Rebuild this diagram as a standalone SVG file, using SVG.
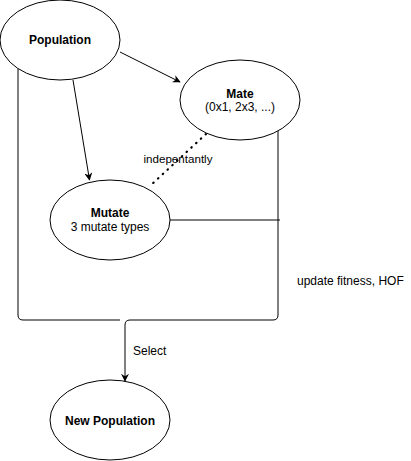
<svg xmlns="http://www.w3.org/2000/svg" width="411" height="461" viewBox="0 0 411 461">
<style>
.node{fill:#fff;stroke:#000;stroke-width:1}
.edge{fill:none;stroke:#000;stroke-width:1}
.dot{fill:none;stroke:#000;stroke-width:2.2;stroke-dasharray:0.5 6;stroke-linecap:round}
.t{font-family:"Liberation Sans",Arial,sans-serif;font-size:12px;fill:#000;text-anchor:middle}
.b{font-weight:bold}
.l{font-family:"Liberation Sans",Arial,sans-serif;font-size:12px;fill:#000}
</style>
<defs>
<marker id="arr" viewBox="0 0 10 10" refX="9" refY="5" markerWidth="8" markerHeight="8" markerUnits="userSpaceOnUse" orient="auto">
<path d="M0,0 L10,5 L0,10 L3,5 Z" fill="#000"/>
</marker>
</defs>
<g id="connectors">
<path class="edge" d="M18,68.6 V315 Q18,320 23,320 H120"/>
<path class="edge" d="M278,131 V315 Q278,320 273,320 H130 Q125,320 125,325 V381" marker-end="url(#arr)"/>
<path class="edge" d="M170,220 H280"/>
<path class="edge" d="M120,52 L180,82" marker-end="url(#arr)"/>
<path class="edge" d="M73,80 L89.5,180" marker-end="url(#arr)"/>
<path class="dot" d="M206,134 L151,185"/>
<text class="l" x="178" y="163" text-anchor="middle" style="font-size:11.6px">indepentantly</text>
<text class="l" x="297" y="285">update fitness, HOF</text>
<text class="l" x="133" y="355">Select</text>
</g>
<g id="population">
<ellipse class="node" cx="60" cy="40" rx="60" ry="40"/>
<text class="t b" x="60" y="44">Population</text>
</g>
<g id="mate">
<ellipse class="node" cx="240" cy="100" rx="60" ry="40"/>
<text class="t b" x="240" y="98">Mate</text>
<text class="t" x="240" y="111">(0x1, 2x3, ...)</text>
</g>
<g id="mutate">
<ellipse class="node" cx="110" cy="220" rx="60" ry="40"/>
<text class="t b" x="110" y="217">Mutate</text>
<text class="t" x="110" y="231">3 mutate types</text>
</g>
<g id="newpop">
<ellipse class="node" cx="110" cy="420" rx="60" ry="40"/>
<text class="t b" x="110" y="425">New Population</text>
</g>
</svg>
